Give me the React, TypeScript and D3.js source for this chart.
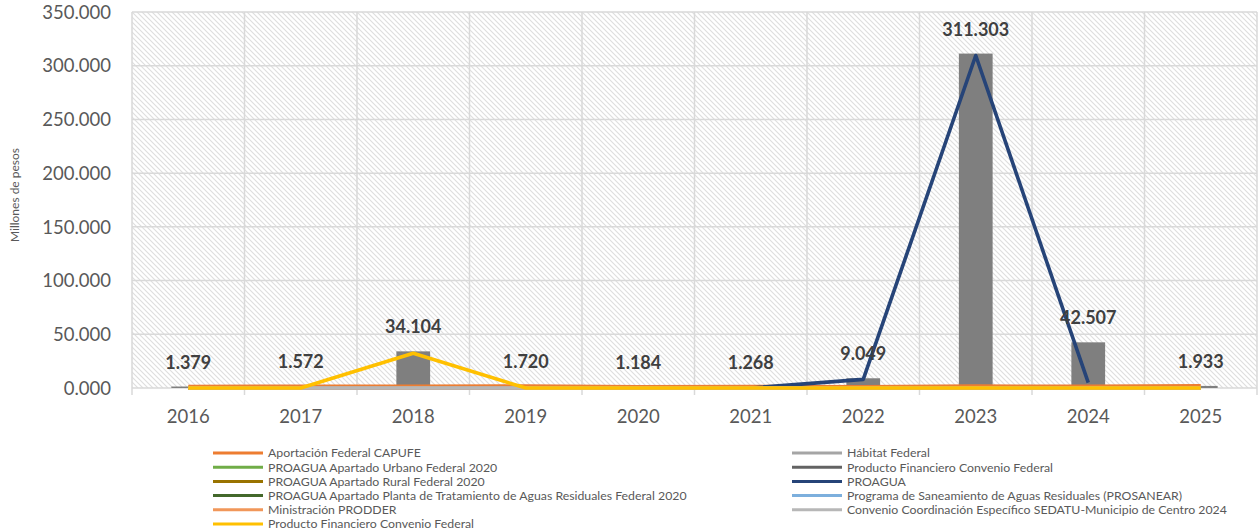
import React from 'react';
import * as d3 from 'd3';

const years = ['2016', '2017', '2018', '2019', '2020', '2021', '2022', '2023', '2024', '2025'];
const totals = [1.379, 1.572, 34.104, 1.72, 1.184, 1.268, 9.049, 311.303, 42.507, 1.933];
const yTicks = [0, 50, 100, 150, 200, 250, 300, 350];

// series in drawing order (legend reads row by row, two columns)
const aportacionCapufe = [1.379, 1.572, 1.604, 1.72, 1.184, 1.268, 1.049, 1.803, 1.507, 1.933];
const habitatFederal = [0, 0, 0, 0, 0, 0, 0, 0, 0, 0];
const proaguaUrbano = [0, 0, 0, 0, 0, 0, 0, 0, 0, 0];
const productoFinancieroGris = [0, 0, 0, 0, 0, 0, 0, 0, 0, 0];
const proaguaRural = [0, 0, 0, 0, 0, 0, 0, 0, 0, 0];
const proagua: (number | null)[] = [0, 0, 0, 0, 0, 0, 8.0, 309.5, 5.0, null];
const proaguaPlanta = [0, 0, 0, 0, 0, 0, 0, 0, 0, 0];
const prosanear = [0, 0, 0, 0, 0, 0, 0, 0, 0, 0];
const ministracionProdder = [0, 0, 0, 0, 0, 0, 0, 0, 0, 0];
const convenioSedatu = [0, 0, 0, 0, 0, 0, 0, 0, 0, 0];
const productoFinancieroAmarillo = [0, 0, 32.3, 0, 0, 0, 0, 0, 0, 0];

const series = [
  { name: 'Aportación Federal CAPUFE', color: '#ED7D31', values: aportacionCapufe },
  { name: 'Hábitat Federal', color: '#A5A5A5', values: habitatFederal },
  { name: 'PROAGUA Apartado Urbano Federal 2020', color: '#70AD47', values: proaguaUrbano },
  { name: 'Producto Financiero Convenio Federal', color: '#636363', values: productoFinancieroGris },
  { name: 'PROAGUA Apartado Rural Federal 2020', color: '#997300', values: proaguaRural },
  { name: 'PROAGUA', color: '#264478', values: proagua },
  { name: 'PROAGUA Apartado Planta de Tratamiento de Aguas Residuales Federal 2020', color: '#43682B', values: proaguaPlanta },
  { name: 'Programa de Saneamiento de Aguas Residuales (PROSANEAR)', color: '#7CAFDD', values: prosanear },
  { name: 'Ministración PRODDER', color: '#F1975A', values: ministracionProdder },
  { name: 'Convenio Coordinación Específico SEDATU-Municipio de Centro 2024', color: '#B7B7B7', values: convenioSedatu },
  { name: 'Producto Financiero Convenio Federal', color: '#FFC000', values: productoFinancieroAmarillo },
];

const W = 1259;
const H = 532;
const margin = { top: 12, left: 132, right: 1257, bottom: 388 };
const font = 'Lato, "Open Sans", sans-serif';

const App: React.FC = () => {
  const x = d3.scaleBand<string>().domain(years).range([margin.left, margin.right]).padding(0);
  const y = d3.scaleLinear().domain([0, 350]).range([margin.bottom, margin.top]);
  const bw = x.bandwidth();
  const barW = bw * 0.3;
  const cx = (d: string) => (x(d) as number) + bw / 2;

  const line = d3.line<number | null>()
    .defined(d => d !== null)
    .x((d, i) => cx(years[i]))
    .y(d => y(d as number));

  const boundaries = d3.range(years.length + 1).map(i => margin.left + i * bw);

  return (
    <svg width={W} height={H} style={{ position: 'absolute', left: 0, top: 0, background: '#fff' }}>
      <defs>
        <pattern id="hatch" width="5" height="5" patternUnits="userSpaceOnUse">
          <rect width="5" height="5" fill="#fff" />
          <path d="M-1,-1 L6,6 M-1,4 L1,6 M4,-1 L6,1" stroke="#dedede" strokeWidth="1.1" />
        </pattern>
      </defs>
      <rect x={margin.left} y={margin.top} width={margin.right - margin.left} height={margin.bottom - margin.top} fill="url(#hatch)" />

      {yTicks.map(t => (
        <line key={'h' + t} x1={margin.left} x2={margin.right} y1={y(t)} y2={y(t)} stroke="#D9D9D9" strokeWidth={1.5} />
      ))}
      {boundaries.map((b, i) => (
        <line key={'v' + i} x1={b} x2={b} y1={margin.top} y2={margin.bottom + 7} stroke="#D9D9D9" strokeWidth={1.5} />
      ))}

      {yTicks.map(t => (
        <text key={'yt' + t} x={111} y={y(t)} dy="0.36em" textAnchor="end" fontFamily={font} fontSize={18.5} fill="#595959">
          {d3.format('.3f')(t)}
        </text>
      ))}
      {years.map(yr => (
        <text key={'xt' + yr} x={cx(yr)} y={423} textAnchor="middle" fontFamily={font} fontSize={18.5} fill="#595959">
          {yr}
        </text>
      ))}
      <text transform={`translate(19,${195}) rotate(-90)`} textAnchor="middle" fontFamily={font} fontSize={12} fill="#595959">
        Millones de pesos
      </text>

      {years.map((yr, i) => (
        <rect key={'b' + yr} x={cx(yr) - barW / 2} y={y(totals[i])} width={barW} height={y(0) - y(totals[i])} fill="#7F7F7F" />
      ))}

      {series.map((s, i) => (
        <path key={'l' + i} d={line(s.values) || ''} fill="none" stroke={s.color} strokeWidth={3.6} strokeLinejoin="round" />
      ))}

      {years.map((yr, i) => (
        <text key={'dl' + yr} x={cx(yr)} y={y(totals[i]) - 18} textAnchor="middle" fontFamily={font} fontWeight="bold" fontSize={18} fill="#404040">
          {d3.format('.3f')(totals[i])}
        </text>
      ))}

      {series.map((s, i) => {
        const col = i % 2;
        const row = Math.floor(i / 2);
        const lx = col === 0 ? 213 : 792;
        const ly = 453 + row * 14.2;
        return (
          <g key={'lg' + i}>
            <line x1={lx} x2={lx + 50} y1={ly} y2={ly} stroke={s.color} strokeWidth={3} />
            <text x={lx + 55} y={ly} dy="0.35em" fontFamily={font} fontSize={12.3} fill="#595959">{s.name}</text>
          </g>
        );
      })}
    </svg>
  );
};

export default App;
